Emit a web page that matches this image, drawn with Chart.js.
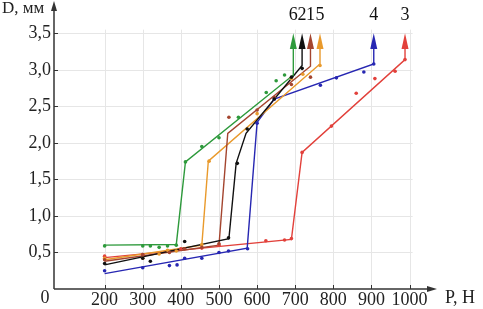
<!DOCTYPE html>
<html>
<head>
<meta charset="utf-8">
<script src="https://cdn.jsdelivr.net/npm/chart.js@4"></script>
<style>
html,body{margin:0;padding:0;background:#fff;}
canvas{display:block;}
</style>
</head>
<body>
<canvas id="c" width="483" height="309"></canvas>
<script>
// ---- data (P, N ; D, mm) ----
const xTicks = [200, 300, 400, 500, 600, 700, 800, 900, 1000];
const yTicks = [0.5, 1.0, 1.5, 2.0, 2.5, 3.0, 3.5];

// series 6 (green)
const line6P = [200, 388, 412, 695, 695];
const line6D = [0.60, 0.61, 1.74, 2.93, 3.30];
const dots6P = [200, 300, 320, 343, 365, 388, 412, 455, 500, 551, 624, 650, 672];
const dots6D = [0.59, 0.59, 0.59, 0.57, 0.59, 0.60, 1.74, 1.95, 2.07, 2.35, 2.69, 2.85, 2.93];

// series 2 (black)
const line2P = [200, 526, 545, 571, 718, 718];
const line2D = [0.33, 0.69, 1.72, 2.13, 3.06, 3.30];
const dots2P = [200, 300, 320, 410, 525, 548, 574, 645, 690, 718];
const dots2D = [0.35, 0.42, 0.38, 0.65, 0.70, 1.72, 2.19, 2.60, 2.90, 3.02];

// series 1 (brown)
const line1P = [200, 500, 523, 740, 740];
const line1D = [0.38, 0.60, 2.13, 3.05, 3.30];
const dots1P = [200, 300, 370, 410, 455, 500, 526, 600, 645, 690, 740];
const dots1D = [0.40, 0.47, 0.50, 0.55, 0.57, 0.62, 2.35, 2.45, 2.62, 2.80, 2.90];

// series 5 (orange)
const line5P = [200, 455, 472, 765, 765];
const line5D = [0.40, 0.60, 1.75, 3.08, 3.30];
const dots5P = [200, 300, 343, 365, 388, 455, 474, 600, 690, 720, 765];
const dots5D = [0.42, 0.42, 0.48, 0.53, 0.52, 0.61, 1.75, 2.40, 2.88, 2.94, 3.06];

// series 4 (blue)
const line4P = [200, 574, 600, 645, 906, 906];
const line4D = [0.21, 0.56, 2.28, 2.60, 3.08, 3.30];
const dots4P = [200, 300, 370, 390, 410, 455, 500, 525, 575, 600, 645, 766, 808, 880, 906];
const dots4D = [0.25, 0.29, 0.32, 0.33, 0.42, 0.42, 0.50, 0.52, 0.55, 2.27, 2.60, 2.79, 2.89, 2.97, 3.08];

// series 3 (red)
const line3P = [200, 690, 718, 988, 988];
const line3D = [0.43, 0.68, 1.87, 3.14, 3.30];
const dots3P = [200, 300, 400, 455, 500, 623, 672, 690, 718, 795, 860, 909, 962, 988];
const dots3D = [0.45, 0.47, 0.55, 0.56, 0.60, 0.66, 0.67, 0.69, 1.87, 2.23, 2.68, 2.88, 2.98, 3.14];

const seriesNames = ['6', '2', '1', '5', '4', '3'];
const arrowTop = 3.50;

// ---- build ----
const series = [
  {name: seriesNames[0], lp: line6P, ld: line6D, dp: dots6P, dd: dots6D, color: '#2e9a3c'},
  {name: seriesNames[1], lp: line2P, ld: line2D, dp: dots2P, dd: dots2D, color: '#111111'},
  {name: seriesNames[2], lp: line1P, ld: line1D, dp: dots1P, dd: dots1D, color: '#a4452f'},
  {name: seriesNames[3], lp: line5P, ld: line5D, dp: dots5P, dd: dots5D, color: '#e99a2c'},
  {name: seriesNames[4], lp: line4P, ld: line4D, dp: dots4P, dd: dots4D, color: '#2727b2'},
  {name: seriesNames[5], lp: line3P, ld: line3D, dp: dots3P, dd: dots3D, color: '#e2413b'}
];
const zip = (a, b) => a.map((v, i) => ({x: v, y: b[i]}));
const datasets = [];
series.forEach(s => {
  datasets.push({data: zip(s.lp, s.ld), showLine: true, borderColor: s.color, borderWidth: 1.4,
    pointRadius: 0, tension: 0, fill: false, order: 2});
});
series.forEach(s => {
  datasets.push({data: zip(s.dp, s.dd), showLine: false, backgroundColor: s.color, borderColor: s.color,
    borderWidth: 0, pointRadius: 1.8, order: 1});
});

const FONT = "'Liberation Serif', 'DejaVu Serif', serif";
const TXT = '#222';

const overlay = {
  id: 'overlay',
  beforeDatasetsDraw(chart) {
    const ctx = chart.ctx, xs = chart.scales.x, ys = chart.scales.y;
    ctx.save();
    ctx.strokeStyle = '#e6e6e6';
    ctx.lineWidth = 1;
    const x0 = xs.left, y0 = ys.getPixelForValue(0);
    const xr = xs.getPixelForValue(1000) + 3, yt = ys.getPixelForValue(3.55);
    xTicks.forEach(v => {
      const px = Math.round(xs.getPixelForValue(v)) + 0.5;
      ctx.beginPath(); ctx.moveTo(px, y0); ctx.lineTo(px, yt); ctx.stroke();
    });
    yTicks.forEach(v => {
      const py = Math.round(ys.getPixelForValue(v)) + 0.5;
      ctx.beginPath(); ctx.moveTo(x0, py); ctx.lineTo(xr, py); ctx.stroke();
    });
    ctx.restore();
  },
  afterDatasetsDraw(chart) {
    const ctx = chart.ctx, xs = chart.scales.x, ys = chart.scales.y;
    ctx.save();
    const ax = xs.left, ay = ys.getPixelForValue(0);
    // axes
    ctx.strokeStyle = '#333'; ctx.fillStyle = '#333'; ctx.lineWidth = 1.5;
    ctx.beginPath(); ctx.moveTo(ax, ay); ctx.lineTo(ax, 6); ctx.stroke();
    ctx.beginPath(); ctx.moveTo(ax, ay); ctx.lineTo(xs.right - 4, ay); ctx.stroke();
    ctx.beginPath(); ctx.moveTo(ax, 1); ctx.lineTo(ax - 3, 11); ctx.lineTo(ax + 3, 11); ctx.closePath(); ctx.fill();
    ctx.beginPath(); ctx.moveTo(xs.right, ay); ctx.lineTo(xs.right - 10, ay - 3); ctx.lineTo(xs.right - 10, ay + 3); ctx.closePath(); ctx.fill();
    // tick marks
    ctx.lineWidth = 1;
    xTicks.forEach(v => {
      const px = Math.round(xs.getPixelForValue(v)) + 0.5;
      ctx.beginPath(); ctx.moveTo(px, ay); ctx.lineTo(px, ay - 4); ctx.stroke();
    });
    yTicks.forEach(v => {
      const py = Math.round(ys.getPixelForValue(v)) + 0.5;
      ctx.beginPath(); ctx.moveTo(ax, py); ctx.lineTo(ax + 4, py); ctx.stroke();
    });
    // arrow heads + labels
    series.forEach(s => {
      const n = s.lp.length - 1;
      const px = xs.getPixelForValue(s.lp[n]);
      const pb = ys.getPixelForValue(s.ld[n]);
      const pt = ys.getPixelForValue(arrowTop);
      ctx.fillStyle = s.color;
      ctx.beginPath(); ctx.moveTo(px, pt); ctx.lineTo(px - 3.5, pb + 1); ctx.lineTo(px + 3.5, pb + 1); ctx.closePath(); ctx.fill();
      ctx.fillStyle = '#111';
      ctx.font = '18px ' + FONT;
      ctx.textAlign = 'center'; ctx.textBaseline = 'middle';
      ctx.fillText(s.name, px, 15);
    });
    // axis captions
    ctx.fillStyle = TXT;
    ctx.font = '18px ' + FONT;
    ctx.textAlign = 'center'; ctx.textBaseline = 'middle';
    ctx.fillText('0', 45, 298);
    ctx.textAlign = 'left';
    ctx.fillText('P, H', 445, 298);
    ctx.font = '17px ' + FONT;
    ctx.fillText('D, мм', 2, 9);
    ctx.restore();
  }
};

new Chart(document.getElementById('c'), {
  type: 'scatter',
  data: {datasets},
  options: {
    responsive: false,
    animation: false,
    devicePixelRatio: 1,
    layout: {padding: {top: 5, right: 46, left: 0, bottom: 0}},
    plugins: {legend: {display: false}, tooltip: {enabled: false}},
    scales: {
      x: {
        type: 'linear', min: 67.2, max: 1071.9,
        afterBuildTicks: s => { s.ticks = xTicks.map(v => ({value: v})); },
        afterFit: s => { s.height = 20; },
        grid: {display: false, drawTicks: false},
        border: {display: false},
        ticks: {font: {family: FONT, size: 18}, color: TXT, padding: 0, maxRotation: 0, autoSkip: false,
          callback: v => String(v)}
      },
      y: {
        type: 'linear', min: 0, max: 3.767,
        afterBuildTicks: s => { s.ticks = yTicks.map(v => ({value: v})); },
        afterFit: s => { s.width = 54; },
        grid: {display: false, drawTicks: false},
        border: {display: false},
        ticks: {font: {family: FONT, size: 18}, color: TXT, padding: 3, autoSkip: false,
          callback: v => v.toFixed(1).replace('.', ',')}
      }
    }
  },
  plugins: [overlay]
});
</script>
</body>
</html>
